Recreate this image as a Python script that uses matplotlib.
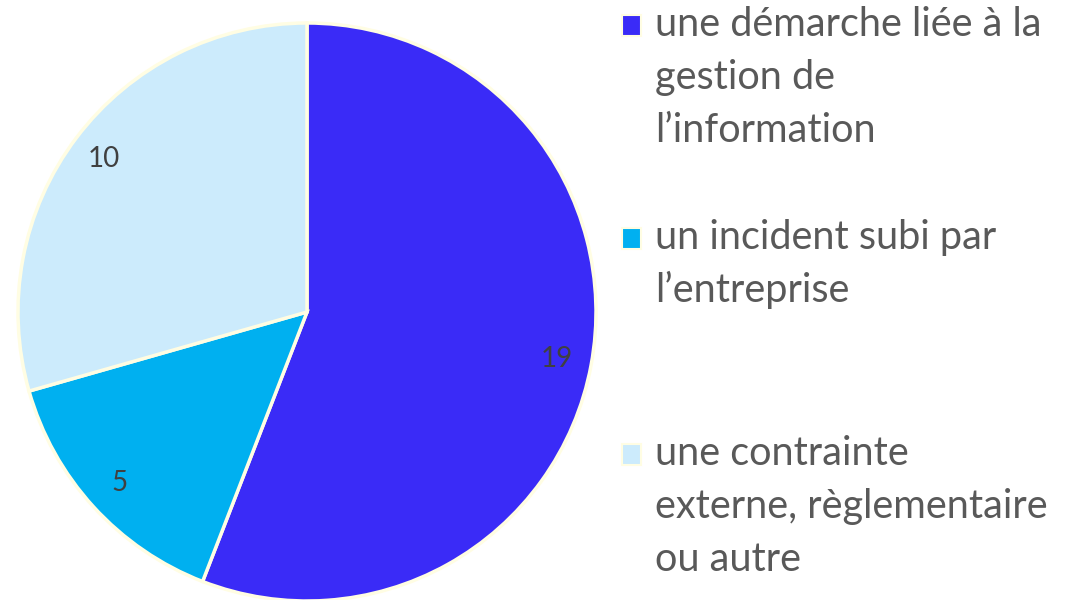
import numpy as np
import matplotlib.pyplot as plt
from matplotlib.patches import Rectangle

# Data
categories = ["une démarche liée à la\ngestion de\nl\u2019information",
              "un incident subi par\nl\u2019entreprise",
              "une contrainte\nexterne, règlementaire\nou autre"]
values = [19, 5, 10]
colors = ["#3A2BF7", "#00B0F0", "#CCEBFC"]

plt.rcParams['font.family'] = ['Lato', 'DejaVu Sans']

W, H = 1070, 600
fig = plt.figure(figsize=(W / 100, H / 100), dpi=100)

# pie centre (307, 312) px, radius ~289 px
cx, cy, r = 307, 312, 289
ax = fig.add_axes([(cx - r) / W, (H - cy - r) / H, 2 * r / W, 2 * r / H])
wedges, texts, autotexts = ax.pie(
    values, colors=colors, startangle=90, counterclock=False,
    autopct=lambda p: f"{p * sum(values) / 100:.0f}", pctdistance=0.88,
    wedgeprops=dict(edgecolor="#FFFDE3", linewidth=2.5),
    textprops=dict(color="#404040", fontsize=20))
ax.set_aspect('equal')
ax.set_xlim(-1, 1)
ax.set_ylim(-1, 1)

# legend, drawn by hand so the squares line up with the first text line
baselines = [36, 249, 465]
line_gap = 53
for lab, col, b in zip(categories, colors, baselines):
    fig.patches.append(Rectangle((622 / W, (H - b) / H), 19 / W, 21 / H,
                                 transform=fig.transFigure, facecolor=col,
                                 edgecolor="#FFFDE3", linewidth=1.5))
    for i, line in enumerate(lab.split("\n")):
        fig.text(655 / W, (H - b - i * line_gap) / H, line, fontsize=28.5,
                 color="#595959", va='baseline', ha='left')

fig.savefig("out.png", dpi=100)
